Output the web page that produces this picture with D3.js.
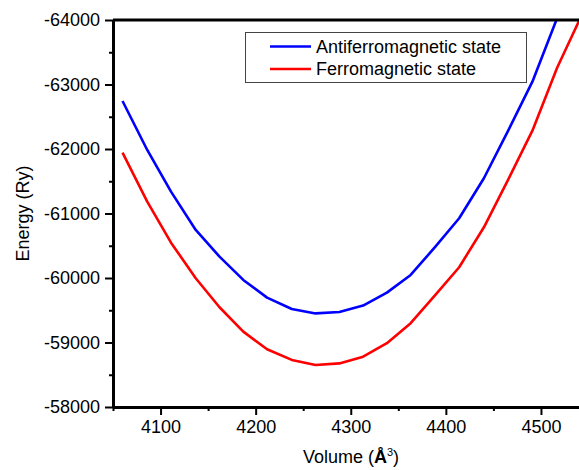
<!DOCTYPE html>
<html>
<head>
<meta charset="utf-8">
<script src="https://cdnjs.cloudflare.com/ajax/libs/d3/7.8.5/d3.min.js"></script>
<style>
	body { margin: 0; background: #fff; }
	text { font-family: Arial, 'Liberation Sans', sans-serif; fill: #000; }
</style>
</head>
<body>
<div class="container"></div>
<script>
var volumes = [4060, 4086, 4111, 4137, 4162, 4187, 4212, 4238, 4263, 4288, 4313, 4338, 4363, 4389, 4414, 4440, 4465, 4491, 4517, 4543];

var antiferro = [-62744, -61985, -61339, -60745, -60331, -59970, -59696, -59520, -59451, -59474,
	-59572, -59773, -60047, -60486, -60926, -61546, -62269, -63044, -64030, -64900];

var ferro = [-61943, -61184, -60548, -59996, -59547, -59169, -58896, -58730, -58652, -58676,
	-58781, -58989, -59299, -59737, -60167, -60786, -61509, -62284, -63260, -64080];

var xTicks = [4100, 4200, 4300, 4400, 4500];
var yTicks = [-64000, -63000, -62000, -61000, -60000, -59000, -58000];

var series = [
	{ name: 'Antiferromagnetic state', color: '#0000ff', values: antiferro },
	{ name: 'Ferromagnetic state', color: '#ff0000', values: ferro }
];

var width = 579,
	height = 470,
	fontSize = '18px',
	margin = { top: 20, right: 0, bottom: 63, left: 113 };

// plain hyphen for negatives, like the original plot
var fmt = function (d) { return String(d); };

var svg = d3.select('.container')
	.append('svg')
	.attr('width', width)
	.attr('height', height);

var x = d3.scaleLinear()
	.domain([4050, 4540])
	.range([margin.left, width - margin.right]);

// energy axis runs downward: most negative at the top
var y = d3.scaleLinear()
	.domain([-64000, -58000])
	.range([margin.top, height - margin.bottom]);

svg.append('clipPath')
	.attr('id', 'plot-clip')
	.append('rect')
	.attr('x', margin.left)
	.attr('y', margin.top)
	.attr('width', width - margin.left - margin.right)
	.attr('height', height - margin.top - margin.bottom);

var line = d3.line()
	.x(function (d) { return x(d.v); })
	.y(function (d) { return y(d.e); });

svg.append('g')
	.attr('clip-path', 'url(#plot-clip)')
	.selectAll('path')
	.data(series)
	.enter().append('path')
		.attr('d', function (s) {
			return line(s.values.map(function (e, i) { return { v: volumes[i], e: e }; }));
		})
		.attr('fill', 'none')
		.attr('stroke', function (s) { return s.color; })
		.attr('stroke-width', 2.6)
		.attr('stroke-linejoin', 'round');

// minor ticks
svg.append('g')
	.attr('transform', 'translate(0,' + y(-58000) + ')')
	.call(d3.axisBottom(x).tickValues([4050, 4150, 4250, 4350, 4450]).tickSize(4).tickFormat(''))
	.call(function (g) { g.select('.domain').remove(); });

svg.append('g')
	.attr('transform', 'translate(' + margin.left + ',0)')
	.call(d3.axisLeft(y).tickValues([-63500, -62500, -61500, -60500, -59500, -58500]).tickSize(4).tickFormat(''))
	.call(function (g) { g.select('.domain').remove(); });

var xAxis = svg.append('g')
	.attr('transform', 'translate(0,' + y(-58000) + ')')
	.call(d3.axisBottom(x).tickValues(xTicks).tickSize(8).tickSizeOuter(0).tickPadding(5).tickFormat(fmt));

var yAxis = svg.append('g')
	.attr('transform', 'translate(' + margin.left + ',0)')
	.call(d3.axisLeft(y).tickValues(yTicks).tickSize(8).tickSizeOuter(0).tickPadding(5).tickFormat(fmt));

[xAxis, yAxis].forEach(function (g) {
	g.selectAll('text').style('font-size', fontSize);
	g.select('.domain').attr('stroke-width', 3);
});
svg.selectAll('.tick line').attr('stroke-width', 2);

// top frame line
svg.append('line')
	.attr('x1', margin.left)
	.attr('x2', width)
	.attr('y1', margin.top)
	.attr('y2', margin.top)
	.attr('stroke', '#000')
	.attr('stroke-width', 3);

svg.append('text')
	.attr('x', 351)
	.attr('y', 463)
	.attr('text-anchor', 'middle')
	.style('font-size', fontSize)
	.html('Volume (<tspan font-weight="bold">Å</tspan><tspan dy="-7" font-size="11px">3</tspan><tspan dy="7">)</tspan>');

svg.append('text')
	.attr('transform', 'translate(29,' + ((margin.top + height - margin.bottom) / 2) + ') rotate(-90)')
	.attr('text-anchor', 'middle')
	.style('font-size', fontSize)
	.text('Energy (Ry)');

// legend
var legend = svg.append('g');

legend.append('rect')
	.attr('x', 245.5)
	.attr('y', 32.5)
	.attr('width', 281)
	.attr('height', 50)
	.attr('fill', '#fff')
	.attr('stroke', '#444')
	.attr('stroke-width', 1);

var items = legend.selectAll('g.item')
	.data(series)
	.enter().append('g')
		.classed('item', true)
		.attr('transform', function (d, i) { return 'translate(270,' + (46.5 + i * 22.5) + ')'; });

items.append('line')
	.attr('x1', 0)
	.attr('x2', 41)
	.attr('stroke', function (d) { return d.color; })
	.attr('stroke-width', 2.6);

items.append('text')
	.attr('x', 46)
	.attr('y', 6)
	.style('font-size', fontSize)
	.text(function (d) { return d.name; });
</script>
</body>
</html>
